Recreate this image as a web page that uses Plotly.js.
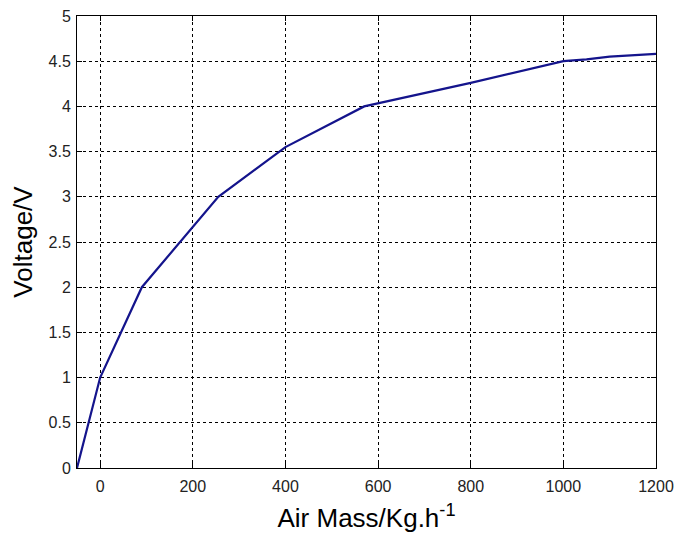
<!DOCTYPE html>
<html>
<head>
<meta charset="utf-8">
<script src="https://cdn.plot.ly/plotly-3.0.1.min.js"></script>
<style>html,body{margin:0;padding:0;background:#fff;}#chart{width:675px;height:534px;}</style>
</head>
<body>
<div id="chart"></div>
<script>
const airMass = [-50, 0, 90, 255, 400, 430, 570, 800, 1000, 1050, 1100, 1200];
const voltage = [0, 1, 2, 3, 3.55, 3.63, 4.0, 4.26, 4.5, 4.52, 4.55, 4.58];
const xTicks = [0, 200, 400, 600, 800, 1000, 1200];
const yTicks = [0, 0.5, 1, 1.5, 2, 2.5, 3, 3.5, 4, 4.5, 5];

const trace = {
  x: airMass, y: voltage, type: 'scatter', mode: 'lines',
  line: {color: '#14148c', width: 2.2}, hoverinfo: 'skip'
};
const axisCommon = {
  showline: true, linecolor: '#000', linewidth: 1, mirror: 'ticks',
  ticks: 'inside', ticklen: 5, tickcolor: '#000',
  showgrid: true, gridcolor: '#000', gridwidth: 1, griddash: '3px,3px',
  zeroline: false,
  tickfont: {family: 'Arial, Liberation Sans, sans-serif', size: 16, color: '#222'}
};
const layout = {
  width: 675, height: 534,
  margin: {l: 77, r: 19, t: 16, b: 66},
  paper_bgcolor: '#fff', plot_bgcolor: '#fff',
  showlegend: false,
  xaxis: Object.assign({}, axisCommon, {
    range: [-50, 1200], tickvals: xTicks, ticktext: xTicks.map(String),
    ticklabelstandoff: 4,
    title: {text: 'Air Mass/Kg.h<sup>-1</sup>', standoff: 14,
      font: {family: 'Arial, Liberation Sans, sans-serif', size: 26, color: '#000'}}
  }),
  yaxis: Object.assign({}, axisCommon, {
    range: [0, 5], tickvals: yTicks, ticktext: yTicks.map(String),
    ticklabelstandoff: 2,
    title: {text: 'Voltage/V', standoff: 8,
      font: {family: 'Arial, Liberation Sans, sans-serif', size: 26, color: '#000'}}
  })
};
Plotly.newPlot('chart', [trace], layout, {displayModeBar: false, staticPlot: true});
</script>
</body>
</html>
